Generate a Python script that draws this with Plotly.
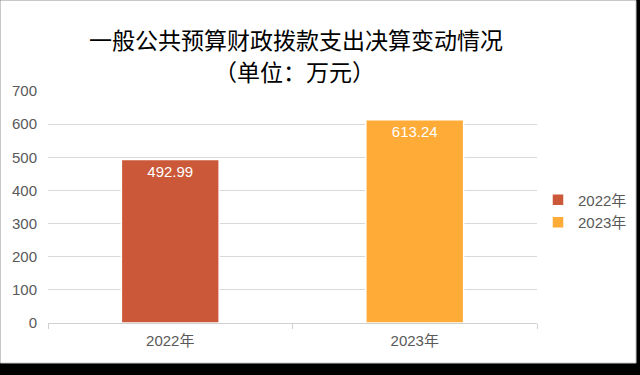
import plotly.graph_objects as go

categories = ["2022年", "2023年"]
series_names = ["2022年", "2023年"]
values_2022 = [492.99, None]
values_2023 = [None, 613.24]
colors = ["#CB5838", "#FFAB38"]

L, R, T, B = 48, 103, 91, 52
W, H = 640, 375
pw, ph = W - L - R, H - T - B

def px2x(px):
    return (px - L) / pw

def py2y(py):
    return (H - B - py) / ph

fig = go.Figure()
for name, vals, col in zip(series_names, [values_2022, values_2023], colors):
    fig.add_trace(go.Bar(
        x=categories, y=vals, name=name,
        marker=dict(color=col, line=dict(color="white", width=1.5)),
        width=0.4,
        text=[f"{v:.2f}" if v is not None else "" for v in vals],
        textposition="inside", insidetextanchor="end",
        textfont=dict(color="white", size=15, family="Liberation Sans"),
    ))

fig.add_shape(type="rect", xref="paper", yref="paper",
              x0=px2x(0.5), x1=px2x(636), y0=py2y(363), y1=py2y(0.5),
              line=dict(color="#c8c8c8", width=1), fillcolor="white", layer="below")

fig.add_annotation(text="一般公共预算财政拨款支出决算变动情况", xref="paper", yref="paper",
                   x=px2x(296), y=py2y(39), showarrow=False, xanchor="center", yanchor="middle",
                   font=dict(size=23, color="black", family="Noto Sans CJK SC"))
fig.add_annotation(text="（单位：万元）", xref="paper", yref="paper",
                   x=px2x(294), y=py2y(71), showarrow=False, xanchor="center", yanchor="middle",
                   font=dict(size=23, color="black", family="Noto Sans CJK SC"))

fig.update_layout(
    width=W, height=H,
    margin=dict(l=L, r=R, t=T, b=B, autoexpand=False),
    paper_bgcolor="black", plot_bgcolor="rgba(0,0,0,0)",
    barmode="relative",
    showlegend=True,
    legend=dict(x=px2x(538), y=py2y(211), xanchor="left", yanchor="middle",
                font=dict(size=15, color="#595959", family="Liberation Sans, Noto Sans CJK SC"),
                bgcolor="rgba(0,0,0,0)", itemwidth=30, tracegroupgap=0),
    font=dict(family="Liberation Sans, Noto Sans CJK SC", color="#595959"),
)
fig.update_xaxes(showgrid=False, showline=True, linecolor="#d0d0d0", linewidth=1,
                 ticks="outside", tickson="boundaries", ticklen=5, tickcolor="#d0d0d0",
                 ticklabelstandoff=4,
                 tickfont=dict(size=15, color="#595959"))
fig.update_yaxes(range=[0, 700], dtick=100, showgrid=True, gridcolor="#d9d9d9", gridwidth=1,
                 zeroline=False, showline=False, ticks="", ticklabelstandoff=10,
                 tickfont=dict(size=15, color="#595959"))

fig.write_html("out.html")
